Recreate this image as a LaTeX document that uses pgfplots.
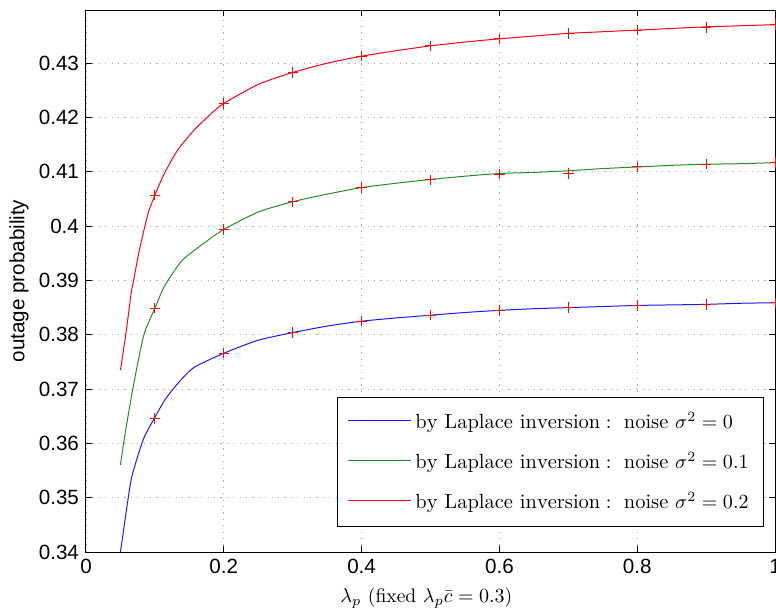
\documentclass[border=0pt]{standalone}
\usepackage{fontspec}
\newfontfamily\arialf{Liberation Sans}
\usepackage{pgfplots}
\pgfplotsset{compat=1.18}
\definecolor{mgreen}{rgb}{0.15,0.55,0.15}
\definecolor{mred}{rgb}{1,0,0.1}
\definecolor{mblue}{rgb}{0.1,0.1,1}
\begin{document}
\begin{tikzpicture}
\begin{axis}[
  scale only axis, width=344.5pt, height=271pt,
  xmin=0, xmax=1, ymin=0.34, ymax=0.4398,
  xtick={0,0.2,0.4,0.6,0.8,1},
  xticklabels={0,0.2,0.4,0.6,0.8,1},
  ytick={0.34,0.35,0.36,0.37,0.38,0.39,0.40,0.41,0.42,0.43},
  yticklabels={0.34,0.35,0.36,0.37,0.38,0.39,0.4,0.41,0.42,0.43},
  /pgf/number format/assume math mode=true,
  tick label style={font=\fontsize{10.3}{12}\arialf},
  grid=major,
  major grid style={dash pattern=on 0.6pt off 2.6pt, gray!65, line width=0.4pt},
  axis line style={line width=0.5pt},
  major tick style={line width=0.5pt, black},
  major tick length=3pt,
  tick align=inside,
  xlabel={$\lambda_p$ (fixed $\lambda_p\bar{c}=0.3$)},
  xlabel style={font=\fontsize{9.8}{11}\selectfont, at={(axis description cs:0.494,-0.0849)}, anchor=center},
  ylabel={outage probability},
  ylabel style={font=\fontsize{10.3}{12}\arialf, at={(axis description cs:-0.0972,0.5)}, anchor=center},
  legend style={at={(axis description cs:0.984,0.286)}, anchor=north east,
    font=\fontsize{10.25}{12}\selectfont, draw=black,
    inner xsep=5.5pt, inner ysep=5.5pt, row sep=6.3pt, cells={anchor=west}},
]
\addplot[mblue, line width=0.5pt, smooth, tension=0.4, forget plot] coordinates {
(0.05,0.3400) (0.058,0.3471) (0.0655,0.3533) (0.075,0.3576) (0.0847,0.3612)
(0.1,0.3648) (0.115,0.3681) (0.135,0.3713) (0.157,0.3740) (0.2,0.3766)
(0.25,0.3790) (0.3,0.3804) (0.35,0.3816) (0.4,0.3825) (0.45,0.3831)
(0.5,0.3836) (0.55,0.3841) (0.6,0.3845) (0.65,0.3848) (0.7,0.3850)
(0.75,0.3852) (0.8,0.3854) (0.85,0.3855) (0.9,0.3856) (0.95,0.3858) (1,0.3859)};
\addplot[mgreen, line width=0.5pt, smooth, tension=0.4, forget plot] coordinates {
(0.05,0.3560) (0.0555,0.3608) (0.0655,0.3683) (0.075,0.3747) (0.0847,0.3803)
(0.1,0.3849) (0.1137,0.3889) (0.138,0.3935) (0.16,0.3958) (0.1715,0.3969)
(0.2,0.3994) (0.25,0.4026) (0.3,0.4045) (0.35,0.4059) (0.4,0.4071)
(0.45,0.4079) (0.5,0.4086) (0.55,0.4092) (0.6,0.4097) (0.65,0.4099)
(0.7,0.4102) (0.75,0.4106) (0.8,0.4109) (0.85,0.4112) (0.9,0.4114)
(0.95,0.4115) (1,0.4117)};
\addplot[mred, line width=0.5pt, smooth, tension=0.4, forget plot] coordinates {
(0.05,0.3735) (0.058,0.3803) (0.0655,0.3876) (0.0692,0.3901) (0.0775,0.3956)
(0.09,0.4023) (0.1,0.4057) (0.1137,0.4097) (0.133,0.4140) (0.157,0.4177)
(0.1815,0.4207) (0.2,0.4226) (0.25,0.4261) (0.3,0.4283) (0.35,0.4300)
(0.4,0.4313) (0.45,0.4323) (0.5,0.4332) (0.55,0.4339) (0.6,0.4345)
(0.65,0.4350) (0.7,0.4355) (0.75,0.4358) (0.8,0.4361) (0.85,0.4364)
(0.9,0.4367) (0.95,0.4369) (1,0.4371)};
\addplot[only marks, mark=+, mark size=2.6pt, red, mark options={line width=0.5pt}, forget plot] coordinates {
(0.1,0.3646) (0.2,0.3766) (0.3,0.3804) (0.4,0.3825) (0.5,0.3836)
(0.6,0.3845) (0.7,0.3850) (0.8,0.3854) (0.9,0.3856) (1,0.3859)};
\addplot[only marks, mark=+, mark size=2.6pt, red, mark options={line width=0.5pt}, forget plot] coordinates {
(0.1,0.3849) (0.2,0.3994) (0.3,0.4045) (0.4,0.4071) (0.5,0.4085)
(0.6,0.4096) (0.7,0.4097) (0.8,0.4109) (0.9,0.4114) (1,0.4117)};
\addplot[only marks, mark=+, mark size=2.6pt, red, mark options={line width=0.5pt}, forget plot] coordinates {
(0.1,0.4057) (0.2,0.4226) (0.3,0.4283) (0.4,0.4313) (0.5,0.4332)
(0.6,0.4345) (0.7,0.4355) (0.8,0.4361) (0.9,0.4366) (1,0.4371)};
\addlegendimage{legend image code/.code={\node[inner sep=0pt, anchor=west] at (0pt,0pt) {\textcolor{mblue}{\rule{31.5pt}{0.6pt}}\hspace{2pt}};}}
\addlegendentry{$\mathrm{by\ Laplace\ inversion:\ noise}\ \sigma^2=0$}
\addlegendimage{legend image code/.code={\node[inner sep=0pt, anchor=west] at (0pt,0pt) {\textcolor{mgreen}{\rule{31.5pt}{0.6pt}}\hspace{2pt}};}}
\addlegendentry{$\mathrm{by\ Laplace\ inversion:\ noise}\ \sigma^2=0.1$}
\addlegendimage{legend image code/.code={\node[inner sep=0pt, anchor=west] at (0pt,0pt) {\textcolor{mred}{\rule{31.5pt}{0.6pt}}\hspace{2pt}};}}
\addlegendentry{$\mathrm{by\ Laplace\ inversion:\ noise}\ \sigma^2=0.2$}
\end{axis}
\pgfresetboundingbox
\useasboundingbox ([shift={(-43pt,-31pt)}]current axis.south west) rectangle ([shift={(0.5pt,5pt)}]current axis.north east);
\end{tikzpicture}
\end{document}
